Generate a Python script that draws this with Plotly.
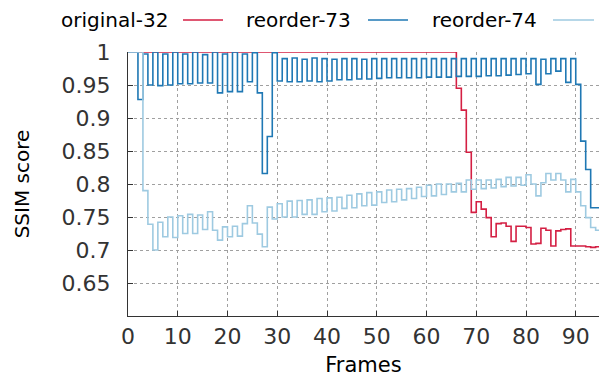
import plotly.graph_objects as go

frames = list(range(96))

original_32 = [1.0] * 66 + [
    0.945, 0.912, 0.848, 0.757, 0.773, 0.762, 0.749, 0.720, 0.740, 0.741,
    0.736, 0.713, 0.736, 0.736, 0.734, 0.709, 0.710, 0.733, 0.730, 0.706,
    0.729, 0.731, 0.732, 0.706, 0.706, 0.706, 0.705, 0.704, 0.705, 0.705]

reorder_73 = [
    1.0, 1.0, 0.928, 0.997, 0.950, 1.0, 0.949, 0.997, 0.950, 1.0,
    0.952, 0.997, 0.952, 1.0, 0.953, 0.996, 0.953, 1.0, 0.938, 0.997,
    0.940, 1.0, 0.940, 0.997, 0.955, 0.999, 0.938, 0.816, 0.872, 0.999,
    0.956, 0.990, 0.955, 0.991, 0.955, 0.989, 0.956, 0.991, 0.955, 0.990,
    0.956, 0.989, 0.958, 0.990, 0.958, 0.990, 0.959, 0.989, 0.959, 0.990,
    0.960, 0.990, 0.961, 0.990, 0.961, 0.990, 0.961, 0.990, 0.961, 0.990,
    0.962, 0.990, 0.962, 0.990, 0.962, 0.990, 0.963, 0.990, 0.963, 0.990,
    0.963, 0.990, 0.964, 0.990, 0.964, 0.990, 0.965, 0.990, 0.966, 0.990,
    0.967, 0.990, 0.951, 0.989, 0.967, 0.990, 0.971, 0.990, 0.954, 0.990,
    0.951, 0.865, 0.822, 0.764, 0.764, 0.764]

reorder_74 = [
    1.0, 1.0, 1.0, 0.790, 0.739, 0.700, 0.742, 0.720, 0.750, 0.719,
    0.752, 0.725, 0.754, 0.725, 0.753, 0.731, 0.758, 0.730, 0.715, 0.735,
    0.720, 0.736, 0.721, 0.740, 0.767, 0.741, 0.724, 0.705, 0.765, 0.747,
    0.770, 0.750, 0.774, 0.750, 0.775, 0.754, 0.776, 0.754, 0.778, 0.758,
    0.779, 0.759, 0.780, 0.763, 0.783, 0.764, 0.785, 0.767, 0.787, 0.768,
    0.788, 0.772, 0.791, 0.773, 0.792, 0.776, 0.793, 0.778, 0.795, 0.781,
    0.798, 0.782, 0.800, 0.784, 0.800, 0.788, 0.801, 0.788, 0.806, 0.792,
    0.806, 0.793, 0.806, 0.794, 0.807, 0.796, 0.810, 0.797, 0.810, 0.798,
    0.814, 0.800, 0.782, 0.802, 0.816, 0.806, 0.816, 0.806, 0.788, 0.807,
    0.788, 0.767, 0.749, 0.734, 0.730, 0.730]

series_names = ["original-32", "reorder-73", "reorder-74"]
series_values = [original_32, reorder_73, reorder_74]
series_colors = ["#d41f43", "#1f78b4", "#9ecae1"]

x_ticks = list(range(0, 100, 10))
y_ticks = [0.65, 0.7, 0.75, 0.8, 0.85, 0.9, 0.95, 1.0]
y_tick_text = ["0.65", "0.7", "0.75", "0.8", "0.85", "0.9", "0.95", "1"]

FONT = "DejaVu Sans"
W, H = 599, 378
ML, MR, MT, MB = 128, 0, 52, 62

fig = go.Figure()
for name, vals, col in zip(series_names, series_values, series_colors):
    fig.add_trace(go.Scatter(
        x=frames, y=vals, name=name, mode="lines",
        line=dict(color=col, width=1.6, shape="hv"),
        showlegend=False,
    ))

# gnuplot-style key: text then line sample
pw = W - ML - MR
ph = H - MT - MB
def px2x(px):
    return (px - ML) / pw
def py2y(py):
    return (H - MB - py) / ph

key_text_right = [170, 353, 539]
key_line = [(183, 223), (368, 408), (553, 594)]
key_y = 20
for name, col, tr, (x0, x1) in zip(series_names, series_colors, key_text_right, key_line):
    fig.add_annotation(
        x=px2x(tr), y=py2y(key_y), xref="paper", yref="paper",
        text=name, showarrow=False, xanchor="right", yanchor="middle",
        font=dict(family=FONT, size=20, color="#000000"),
    )
    fig.add_shape(
        type="line", xref="paper", yref="paper",
        x0=px2x(x0), x1=px2x(x1), y0=py2y(key_y), y1=py2y(key_y),
        line=dict(color=col, width=1.6),
    )

fig.update_layout(
    width=W, height=H,
    margin=dict(l=ML, r=MR, t=MT, b=MB, pad=0),
    paper_bgcolor="white", plot_bgcolor="white",
    font=dict(family=FONT, size=20, color="#333333"),
    showlegend=False,
)
fig.update_xaxes(
    range=[0, pw / 4.975], tickvals=x_ticks,
    ticks="inside", ticklen=5, tickcolor="#333333",
    showline=True, linecolor="#333333", linewidth=1.2, mirror=False,
    showgrid=True, gridcolor="#a0a0a0", griddash="dot", gridwidth=1,
    zeroline=False,
    title=dict(text="Frames", standoff=9, font=dict(family=FONT, size=21, color="#000000")),
    tickfont=dict(family=FONT, size=22, color="#333333"),
)
fig.update_yaxes(
    range=[0.6, 0.6 + ph / 660.0], tickvals=y_ticks, ticktext=y_tick_text,
    ticks="inside", ticklen=5, tickcolor="#333333",
    showline=True, linecolor="#333333", linewidth=1.2, mirror=False,
    showgrid=True, gridcolor="#a0a0a0", griddash="dot", gridwidth=1,
    zeroline=False, ticklabelstandoff=12,
    title=dict(text="SSIM score", standoff=26, font=dict(family=FONT, size=20, color="#000000")),
    tickfont=dict(family=FONT, size=22, color="#333333"),
)

fig.write_html("out.html")
